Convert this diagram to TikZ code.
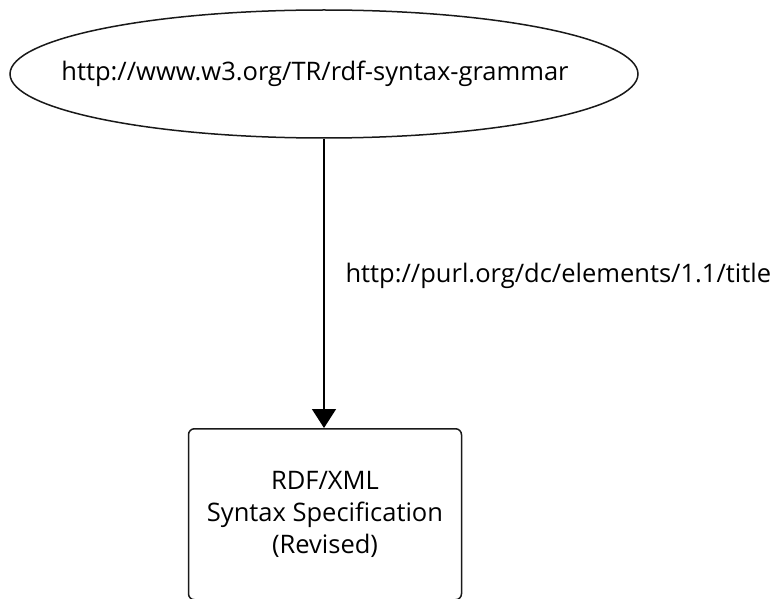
\documentclass[tikz,border=0pt]{standalone}
\usepackage{fontspec}
\setmainfont{Open Sans}
\usetikzlibrary{positioning, arrows.meta, shapes.geometric}

\begin{document}
\begin{tikzpicture}[x=1pt,y=-1pt,resource/.style={draw=black!90,line width=1.5pt,ellipse,minimum width=628pt,minimum height=128pt,inner xsep=-80pt,inner ysep=0pt,font=\fontsize{25.5}{30}\selectfont},literal/.style={draw=black!90,line width=1.5pt,rounded corners=6pt,minimum width=273pt,minimum height=171pt,align=center,anchor=north,font=\fontsize{25.5}{32}\selectfont},arrow/.style={line width=1.5pt,-{Triangle[length=19pt,width=24pt]}},pred/.style={anchor=west,font=\fontsize{25.5}{30}\selectfont}]
\useasboundingbox (0,0) rectangle (777,599);
\node[resource] (uri) at (324,74) {http://www.w3.org/TR/rdf-syntax-grammar\hspace*{18pt}};
\node[literal] (spec) at (325,428) {RDF/XML\\Syntax Specification\\(Revised)};
\draw[arrow] (uri.south) -- (uri.south |- spec.north);
\node[pred] (title) at (342,276) {http://purl.org/dc/elements/1.1/title};
\end{tikzpicture}
\end{document}
